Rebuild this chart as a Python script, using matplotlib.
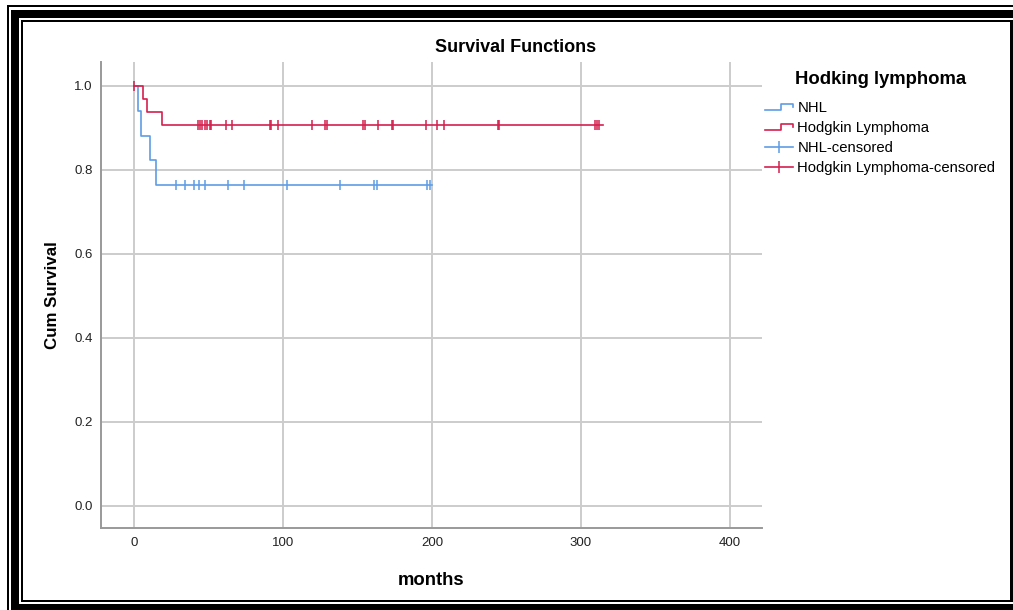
import matplotlib
matplotlib.use("Agg")
import matplotlib.pyplot as plt
import numpy as np
from matplotlib.lines import Line2D
from matplotlib.patches import Rectangle
from matplotlib.legend_handler import HandlerBase

plt.rcParams['font.family'] = ['Liberation Sans', 'DejaVu Sans']

# ---- data ----
nhl_time = [0, 2.5, 4.5, 10.7, 14.8, 200]
nhl_surv = [1.0, 0.941, 0.882, 0.824, 0.765, 0.765]
nhl_censored = [28, 34, 40, 44, 48, 63, 74, 103, 138, 161, 163, 197, 199]

hl_time = [0, 5.8, 9, 19, 315]
hl_surv = [1.0, 0.969, 0.938, 0.906, 0.906]
hl_censored = [0, 43, 44.5, 46, 48, 49, 51, 52, 62, 66, 91, 92, 97, 119.5,
               128, 129.5, 154, 155, 163.5, 173, 174, 195.7, 203.5, 208.3,
               244, 245, 309.5, 310.7, 312]

x_ticks = [0, 100, 200, 300, 400]
y_ticks = [0.0, 0.2, 0.4, 0.6, 0.8, 1.0]
labels = ['NHL', 'Hodgkin Lymphoma', 'NHL-censored', 'Hodgkin Lymphoma-censored']

blue = '#5e9de6'
red = '#d4204e'

W, H = 1013, 610
fig = plt.figure(figsize=(W / 100, H / 100), dpi=100)
ax = fig.add_axes([101 / W, 1 - 527.7 / H, (762 - 101) / W, (527.7 - 62) / H])


def surv_at(times, survs, t):
    idx = np.searchsorted(times, t, side='right') - 1
    return np.array(survs)[np.clip(idx, 0, len(survs) - 1)]


ax.plot(nhl_time, nhl_surv, drawstyle='steps-post', color=blue, lw=1.2, zorder=3)
ax.plot(nhl_censored, surv_at(nhl_time, nhl_surv, nhl_censored), ls='none',
        marker='|', ms=7, mew=1.1, color=blue, zorder=3)
ax.plot(hl_time, hl_surv, drawstyle='steps-post', color=red, lw=1.2, zorder=4)
ax.plot(hl_censored, surv_at(hl_time, hl_surv, hl_censored), ls='none',
        marker='|', ms=7, mew=1.1, color=red, zorder=4)

ax.set_xlim(-22.1, 421.5)
ax.set_ylim(-0.0517, 1.057)
ax.set_xticks(x_ticks)
ax.set_yticks(y_ticks)
ax.set_yticklabels([f'{v:.1f}' for v in y_ticks])
ax.tick_params(length=0, labelsize=9.5, colors='#222222')
ax.tick_params(axis='x', pad=7)
ax.tick_params(axis='y', pad=6)
ax.grid(True, color='#cccccc', lw=1.4, zorder=0)
ax.set_axisbelow(True)
for s in ['top', 'right']:
    ax.spines[s].set_visible(False)
for s in ['left', 'bottom']:
    ax.spines[s].set_color('#999999')
    ax.spines[s].set_linewidth(1.4)

fig.text(516 / W, 1 - 47 / H, 'Survival Functions', fontsize=13,
         fontweight='bold', ha='center', va='center')
ax.set_xlabel('months', fontsize=13.3, fontweight='bold', labelpad=16)
ax.set_ylabel('Cum Survival', fontsize=12.2, fontweight='bold', labelpad=10)


class StepHandler(HandlerBase):
    def __init__(self, color):
        super().__init__()
        self.color = color

    def create_artists(self, legend, orig_handle, xdescent, ydescent, width,
                       height, fontsize, trans):
        x0 = -xdescent
        y0 = -ydescent
        xs = [x0, x0 + 0.55 * width, x0 + 0.55 * width, x0 + width, x0 + width]
        ys = [y0 + 0.2 * height, y0 + 0.2 * height, y0 + 0.8 * height,
              y0 + 0.8 * height, y0 + 0.45 * height]
        ln = Line2D(xs, ys, color=self.color, lw=1.2, transform=trans)
        return [ln]


h_nhl = Line2D([], [], color=blue)
h_hl = Line2D([], [], color=red)
h_nhl_c = Line2D([], [], color=blue, lw=1.2, marker='|', ms=8, mew=1.1)
h_hl_c = Line2D([], [], color=red, lw=1.2, marker='|', ms=8, mew=1.1)

fig.text(881 / W, 1 - 80 / H, 'Hodking lymphoma', fontsize=13.3,
         fontweight='bold', ha='center', va='center')
leg = fig.legend([h_nhl, h_hl, h_nhl_c, h_hl_c], labels,
                 handler_map={h_nhl: StepHandler(blue), h_hl: StepHandler(red)},
                 loc='upper left', bbox_to_anchor=(765 / W, 1 - 101 / H),
                 frameon=False, fontsize=10.75,
                 handlelength=1.9, handletextpad=0.27, labelspacing=0.40,
                 borderaxespad=0, borderpad=0)

# ---- decorative frame ----
fa = fig.add_axes([0, 0, 1, 1], zorder=-1)
fa.set_xlim(0, W)
fa.set_ylim(H, 0)
fa.axis('off')


def rect(x0, y0, x1, y1):
    fa.add_patch(Rectangle((x0, y0), x1 - x0, y1 - y0, facecolor='black',
                           edgecolor='none', lw=0))


# outer thin line
rect(7, 5, W, 7)
rect(7, 5, 9, H)
# thick band
rect(11, 9.5, W, 17.5)
rect(11, 9.5, 19, H)
rect(11, 603.5, W, H)
# inner thin rectangle
rect(21, 20, 1010, 22)
rect(21, 20, 23, 602)
rect(1010, 20, 1012.5, 602)
rect(21, 600, 1012.5, 602)

fig.savefig('out.png', dpi=100)
